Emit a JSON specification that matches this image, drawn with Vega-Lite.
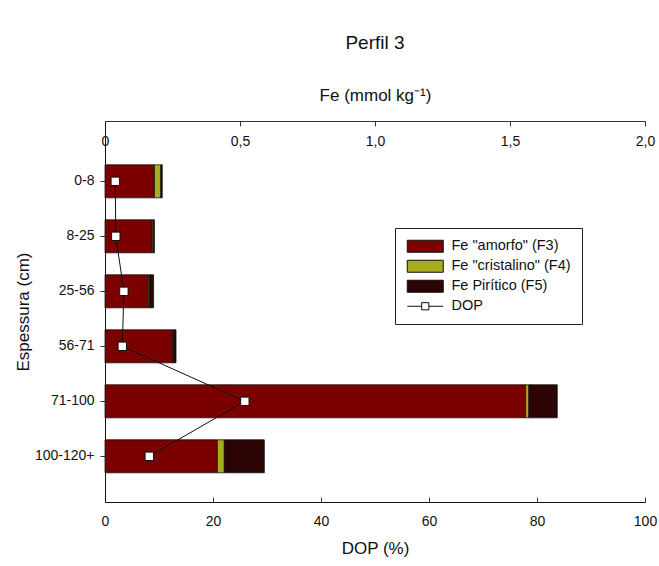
{
  "$schema": "https://vega.github.io/schema/vega-lite/v6.json",
  "width": 540,
  "height": 381,
  "autosize": {"type": "none"},
  "padding": {"left": 105, "top": 121, "right": 14, "bottom": 64},
  "background": "white",
  "config": {
    "font": "Liberation Sans",
    "view": {"stroke": null},
    "axis": {"grid": false, "domainColor": "#333333", "tickColor": "#333333", "labelColor": "#111111", "titleColor": "#111111", "labelFontSize": 14, "titleFontSize": 17, "titleFontWeight": "normal"}
  },
  "title": {"text": "Perfil 3", "fontSize": 19, "fontWeight": "normal", "color": "#111111", "offset": 34, "anchor": "middle"},
  "datasets": {
    "fe": [
      {"camada": "0-8", "fracao": "Fe \"amorfo\" (F3)", "fe": 0.183},
      {"camada": "0-8", "fracao": "Fe \"cristalino\" (F4)", "fe": 0.024},
      {"camada": "0-8", "fracao": "Fe Pirítico (F5)", "fe": 0.005},
      {"camada": "8-25", "fracao": "Fe \"amorfo\" (F3)", "fe": 0.175},
      {"camada": "8-25", "fracao": "Fe \"cristalino\" (F4)", "fe": 0.004},
      {"camada": "8-25", "fracao": "Fe Pirítico (F5)", "fe": 0.004},
      {"camada": "25-56", "fracao": "Fe \"amorfo\" (F3)", "fe": 0.160},
      {"camada": "25-56", "fracao": "Fe \"cristalino\" (F4)", "fe": 0.004},
      {"camada": "25-56", "fracao": "Fe Pirítico (F5)", "fe": 0.016},
      {"camada": "56-71", "fracao": "Fe \"amorfo\" (F3)", "fe": 0.251},
      {"camada": "56-71", "fracao": "Fe \"cristalino\" (F4)", "fe": 0.002},
      {"camada": "56-71", "fracao": "Fe Pirítico (F5)", "fe": 0.010},
      {"camada": "71-100", "fracao": "Fe \"amorfo\" (F3)", "fe": 1.558},
      {"camada": "71-100", "fracao": "Fe \"cristalino\" (F4)", "fe": 0.012},
      {"camada": "71-100", "fracao": "Fe Pirítico (F5)", "fe": 0.105},
      {"camada": "100-120+", "fracao": "Fe \"amorfo\" (F3)", "fe": 0.416},
      {"camada": "100-120+", "fracao": "Fe \"cristalino\" (F4)", "fe": 0.026},
      {"camada": "100-120+", "fracao": "Fe Pirítico (F5)", "fe": 0.148}
    ],
    "dop": [
      {"camada": "0-8", "ordem": 1, "dop": 1.9},
      {"camada": "8-25", "ordem": 2, "dop": 2.0},
      {"camada": "25-56", "ordem": 3, "dop": 3.5},
      {"camada": "56-71", "ordem": 4, "dop": 3.2},
      {"camada": "71-100", "ordem": 5, "dop": 25.9},
      {"camada": "100-120+", "ordem": 6, "dop": 8.2}
    ]
  },
  "encoding": {
    "y": {
      "field": "camada", "type": "nominal",
      "sort": ["0-8", "8-25", "25-56", "56-71", "71-100", "100-120+"],
      "scale": {"paddingInner": 0.4, "paddingOuter": 0.664, "align": 0.6},
      "axis": {"title": "Espessura (cm)", "tickSize": 5, "labelPadding": 6, "titlePadding": 2, "domainColor": "#111111"}
    }
  },
  "layer": [
    {
      "data": {"name": "fe"},
      "mark": {"type": "bar", "stroke": "#111111", "strokeWidth": 0.8},
      "encoding": {
        "x": {
          "field": "fe", "type": "quantitative", "stack": "zero",
          "scale": {"domain": [0, 2], "nice": false},
          "axis": {
            "orient": "top", "title": "Fe (mmol kg⁻¹)", "values": [0, 0.5, 1, 1.5, 2],
            "tickSize": -5, "labelBaseline": "top", "labelPadding": -8, "titlePadding": 16,
            "labelFlush": false,
            "labelExpr": "datum.value == 0 ? '0' : replace(format(datum.value, '.1f'), '.', ',')"
          }
        },
        "color": {
          "field": "fracao", "type": "nominal",
          "scale": {
            "domain": ["Fe \"amorfo\" (F3)", "Fe \"cristalino\" (F4)", "Fe Pirítico (F5)", "DOP"],
            "range": ["#7b0000", "#a7ad1e", "#2c0404", "#ffffff"]
          },
          "legend": {
            "title": null, "orient": "none", "legendX": 290, "legendY": 107,
            "strokeColor": "#222222", "fillColor": "white", "padding": 11,
            "labelFontSize": 14.5, "labelColor": "#111111", "rowPadding": 3,
            "symbolSize": 144, "symbolStrokeColor": "#111111", "symbolStrokeWidth": 1,
            "symbolOffset": 12, "labelOffset": 19,
            "encode": {
              "symbols": {
                "update": {
                  "shape": {"signal": "datum.label === 'DOP' ? 'M-3,0H-0.6M0.6,0H3M-0.6,-0.6H0.6V0.6H-0.6Z' : 'M-3,-1H3V1H-3Z'"}
                }
              }
            }
          }
        }
      }
    },
    {
      "data": {"name": "dop"},
      "mark": {"type": "line", "color": "#111111", "strokeWidth": 1, "point": {"shape": "square", "filled": true, "fill": "white", "stroke": "#111111", "strokeWidth": 1, "size": 70}},
      "encoding": {
        "x": {
          "field": "dop", "type": "quantitative",
          "scale": {"domain": [0, 100], "nice": false},
          "axis": {"orient": "bottom", "title": "DOP (%)", "values": [0, 20, 40, 60, 80, 100], "tickSize": -5, "labelPadding": 17, "titlePadding": 12, "labelFlush": false, "domainColor": "#111111"}
        },
        "order": {"field": "ordem", "type": "quantitative"}
      }
    }
  ],
  "resolve": {"scale": {"x": "independent"}}
}
